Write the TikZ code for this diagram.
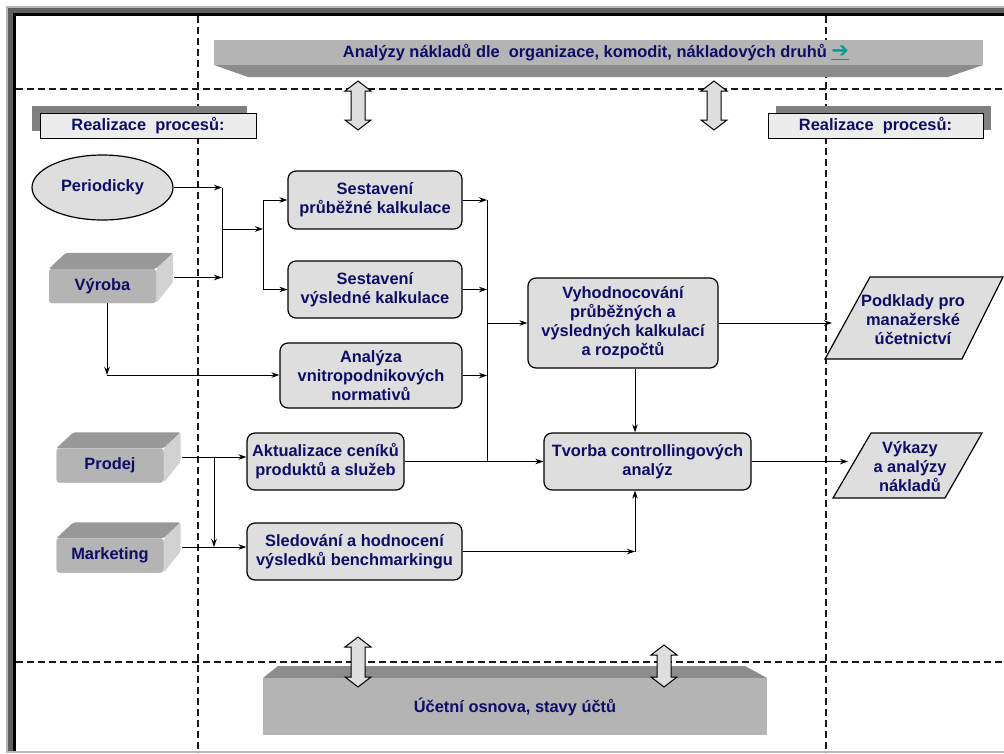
\documentclass[tikz,border=0pt]{standalone}
\usepackage{fontspec}
\setmainfont{Liberation Sans}
\newfontfamily\dvfont{DejaVu Sans}
\usetikzlibrary{shapes.geometric,arrows.meta,calc}
\definecolor{navy}{HTML}{0D0D66}
\definecolor{boxfill}{HTML}{DEDEDE}
\definecolor{slablight}{HTML}{B4B4B4}
\definecolor{slabdark}{HTML}{8C8C8C}
\definecolor{shadowgray}{HTML}{808080}
\definecolor{labelfill}{HTML}{ECECEC}
\definecolor{topgray}{HTML}{999999}
\definecolor{sidegray}{HTML}{D2D2D2}
\definecolor{framedark}{HTML}{5F5F5F}
\definecolor{framelight}{HTML}{B8B8B8}
\definecolor{linkteal}{HTML}{009999}
\newcommand\dblarr[3]{%
  \filldraw[fill=boxfill,draw=black,line width=1pt,line join=miter]
    (#1,#2) -- ++(13,10) -- ++(-6,0) -- (#1+7,#3-10) -- ++(6,0) -- (#1,#3)
    -- ++(-13,-10) -- ++(6,0) -- (#1-7,#2+10) -- ++(-6,0) -- cycle;}
\newcommand\boxthreed[4]{%
  \node[frontface] (#1) at (#2,#3) {#4};
  \fill[topgray,rounded corners=2pt] (#1.north west) -- ++(17,-16) -- ([shift={(17,-16)}]#1.north east) -- (#1.north east) -- cycle;
  \fill[sidegray,rounded corners=2pt] (#1.north east) -- ++(17,-16) -- ++(0,29) -- (#1.south east) -- cycle;
  \node[frontface] at (#1) {#4};
  \coordinate (#1-out) at ([shift={(18,-8.5)}]#1.east);}
\begin{document}
\begin{tikzpicture}[x=1pt,y=-1pt,
  every node/.style={font=\bfseries\fontsize{16.4}{19}\selectfont,text=navy,align=center},
  proc/.style={draw=black,line width=1.2pt,fill=boxfill,rounded corners=8pt,inner sep=2pt},
  frontface/.style={fill=slablight,rounded corners=3pt,minimum width=107pt,minimum height=34pt,inner sep=0pt},
  arr/.style={-{Stealth[length=8pt,width=5.5pt,inset=2.5pt]},line width=1pt},
  ln/.style={line width=1pt},
  sep/.style={line width=1.1pt,dash pattern=on 7pt off 4pt,draw=black!90},
  lbl/.style={draw=black,line width=1pt,fill=labelfill}]
\useasboundingbox (0,0) rectangle (1004,753);
% frame
\fill[framelight] (6,6) rectangle (1004,753);
\fill[framedark] (8,8) rectangle (1004,751);
\fill[black] (13,13) rectangle (1004,751);
\fill[white] (16,16) rectangle (1004,751);
% separators
\draw[sep] (198,16) -- (198,753);
\draw[sep] (826,16) -- (826,753);
\draw[sep] (16,89) -- (1004,89);
\draw[sep] (16,662) -- (1004,662);
% top banner
\fill[slabdark] (214,65) -- (983,65) -- (948,77) -- (248,77) -- cycle;
\fill[slablight] (214,40) rectangle (983,65);
\node (top) at (596,53) {Analýzy nákladů dle\ \ organizace, komodit, nákladových druhů \textcolor{linkteal}{\underline{\dvfont\fontsize{21}{21}\selectfont ➔}}};
% bottom slab
\fill[slabdark] (263,678) -- (278,666) -- (745,666) -- (767,678) -- cycle;
\fill[slablight] (263,678) rectangle (767,735);
\node (ucet) at (515,707) {Účetní osnova, stavy účtů};
% double arrows
\dblarr{358}{81}{130}
\dblarr{714}{81}{130}
\dblarr{358}{637}{687}
\dblarr{664}{645}{687}
% process labels
\fill[shadowgray] (32,106) rectangle (247,131);
\node[lbl,minimum width=216pt,minimum height=25pt,inner sep=0pt] (rl) at (148,125.5) {Realizace\ \ procesů:};
\fill[shadowgray] (776,106) rectangle (991,130);
\node[lbl,minimum width=215pt,minimum height=25pt,inner sep=0pt] (rr) at (875.5,125.5) {Realizace\ \ procesů:};
% sources
\node[ellipse,draw=black,line width=1.2pt,fill=boxfill,minimum width=141pt,minimum height=65pt,inner sep=0pt] (per) at (102.5,187.5) {Periodicky};
\boxthreed{vyr}{102.5}{286}{Výroba}
\boxthreed{pro}{110}{465.5}{Prodej}
\boxthreed{mar}{110}{555.5}{Marketing}
% process boxes
\node[proc,minimum width=174pt,minimum height=58pt] (s1) at (375,200) {Sestavení\\průběžné kalkulace};
\node[proc,minimum width=174pt,minimum height=57pt] (s2) at (375,289.5) {Sestavení\\výsledné kalkulace};
\node[proc,minimum width=182pt,minimum height=65pt] (an) at (371,375.5) {Analýza\\vnitropodnikových\\normativů};
\node[proc,minimum width=190pt,minimum height=90pt] (vy) at (623,323) {Vyhodnocování\\průběžných a\\výsledných kalkulací\\a rozpočtů};
\node[proc,minimum width=207pt,minimum height=57pt] (tv) at (647.5,461.5) {Tvorba controllingových\\analýz};
\node[proc,minimum width=157pt,minimum height=57pt] (ak) at (325.5,461.5) {Aktualizace ceníků\\produktů a služeb};
\node[proc,minimum width=215pt,minimum height=57pt] (sl) at (354.5,551.5) {Sledování a hodnocení\\výsledků benchmarkingu};
% outputs
\filldraw[fill=boxfill,draw=black,line width=1.2pt] (825,359) -- (870,277) -- (1003,277) -- (962,359) -- cycle;
\node (pod) at (913,320) {Podklady pro\\manažerské\\účetnictví};
\filldraw[fill=boxfill,draw=black,line width=1.2pt] (833,498) -- (871,433) -- (982,433) -- (945,498) -- cycle;
\node (vyk) at (910,467) {Výkazy\\a analýzy\\nákladů};
% junction coordinates
\coordinate (j1) at (222,229);
\coordinate (j2) at (263,229);
\coordinate (jr) at (487,323);
\coordinate (vyrdown) at (107,375);
\coordinate (sj) at (635,551.5);
\coordinate (pj) at (214,0);
\coordinate (podin) at (832,323);
\coordinate (vykin) at (848,461.5);
% connectors
\draw[arr] (per.east) -- (per.east -| j1);
\draw[arr] (vyr-out) -- (vyr-out -| j1);
\draw[ln] (per.east -| j1) -- (vyr-out -| j1);
\draw[arr] (j1) -- (j2);
\draw[ln] (s1.west -| j2) -- (s2.west -| j2);
\draw[arr] (s1.west -| j2) -- (s1.west);
\draw[arr] (s2.west -| j2) -- (s2.west);
\draw[arr] (vyr.south -| vyrdown) -- (vyrdown);
\draw[arr] (vyrdown) -- (vyrdown -| an.west);
\draw[arr] (s1.east) -- (s1.east -| jr);
\draw[arr] (s2.east) -- (s2.east -| jr);
\draw[arr] (an.east) -- (an.east -| jr);
\draw[ln] (s1.east -| jr) -- (ak.east -| jr);
\draw[arr] (jr) -- (vy.west);
\draw[arr] (vy.east) -- (podin);
\draw[arr] (vy.south -| sj) -- (tv.north -| sj);
\draw[arr] (ak.east) -- (tv.west);
\draw[arr] (pro-out) -- (pro-out -| ak.west);
\draw[arr] (pj |- pro-out) -- (pj |- mar-out);
\draw[arr] (mar-out) -- (mar-out -| sl.west);
\draw[arr] (sl.east) -- (sj);
\draw[arr] (sj) -- (tv.south -| sj);
\draw[arr] (tv.east) -- (vykin);
\end{tikzpicture}
\end{document}
